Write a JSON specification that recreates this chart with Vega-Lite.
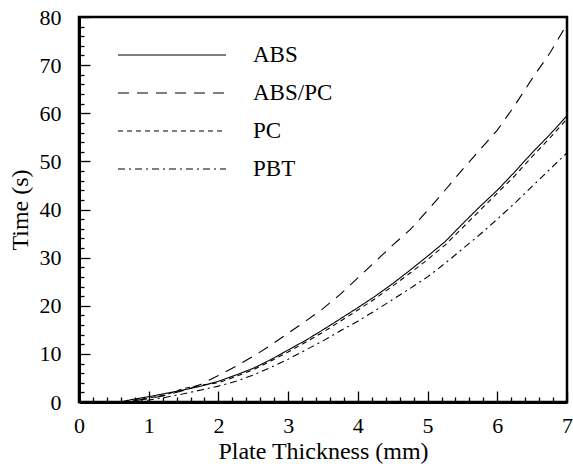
{
  "$schema": "https://vega.github.io/schema/vega-lite/v6.json",
  "width": 488,
  "height": 385,
  "autosize": {"type": "none"},
  "padding": {"left": 79, "top": 17, "right": 6, "bottom": 64},
  "background": "white",
  "config": {
    "font": "Liberation Serif",
    "view": {"stroke": "black", "strokeWidth": 2.5},
    "axis": {
      "grid": false,
      "domainColor": "black",
      "domainWidth": 3,
      "tickColor": "black",
      "tickWidth": 1.3,
      "labelColor": "black",
      "titleColor": "black",
      "labelFont": "Liberation Serif",
      "titleFont": "Liberation Serif",
      "labelFontSize": 22,
      "titleFontSize": 24,
      "titleFontWeight": "normal"
    }
  },
  "data": {
    "values": [
      {"x": 0, "y": 0, "s": "ABS"}, {"x": 0.5, "y": 0, "s": "ABS"}, {"x": 0.6, "y": 0, "s": "ABS"}, {"x": 0.75, "y": 0.5, "s": "ABS"},
      {"x": 1, "y": 1.1, "s": "ABS"}, {"x": 1.25, "y": 1.8, "s": "ABS"}, {"x": 1.5, "y": 2.5, "s": "ABS"}, {"x": 1.75, "y": 3.3, "s": "ABS"},
      {"x": 2, "y": 4.3, "s": "ABS"}, {"x": 2.25, "y": 5.6, "s": "ABS"}, {"x": 2.5, "y": 7.0, "s": "ABS"}, {"x": 2.75, "y": 8.8, "s": "ABS"},
      {"x": 3, "y": 10.8, "s": "ABS"}, {"x": 3.25, "y": 12.8, "s": "ABS"}, {"x": 3.5, "y": 15.0, "s": "ABS"}, {"x": 3.75, "y": 17.3, "s": "ABS"},
      {"x": 4, "y": 19.6, "s": "ABS"}, {"x": 4.25, "y": 22.0, "s": "ABS"}, {"x": 4.5, "y": 24.6, "s": "ABS"}, {"x": 4.75, "y": 27.4, "s": "ABS"},
      {"x": 5, "y": 30.3, "s": "ABS"}, {"x": 5.25, "y": 33.3, "s": "ABS"}, {"x": 5.5, "y": 37.0, "s": "ABS"}, {"x": 5.75, "y": 40.6, "s": "ABS"},
      {"x": 6, "y": 44.0, "s": "ABS"}, {"x": 6.25, "y": 47.8, "s": "ABS"}, {"x": 6.5, "y": 51.8, "s": "ABS"}, {"x": 6.75, "y": 55.5, "s": "ABS"},
      {"x": 7, "y": 59.5, "s": "ABS"},

      {"x": 0, "y": 0, "s": "ABS/PC"}, {"x": 0.5, "y": 0, "s": "ABS/PC"}, {"x": 0.65, "y": 0, "s": "ABS/PC"}, {"x": 0.75, "y": 0.2, "s": "ABS/PC"},
      {"x": 1, "y": 0.7, "s": "ABS/PC"}, {"x": 1.25, "y": 1.4, "s": "ABS/PC"}, {"x": 1.5, "y": 2.4, "s": "ABS/PC"}, {"x": 1.75, "y": 3.7, "s": "ABS/PC"},
      {"x": 2, "y": 5.5, "s": "ABS/PC"}, {"x": 2.25, "y": 7.4, "s": "ABS/PC"}, {"x": 2.5, "y": 9.5, "s": "ABS/PC"}, {"x": 2.75, "y": 11.8, "s": "ABS/PC"},
      {"x": 3, "y": 14.3, "s": "ABS/PC"}, {"x": 3.25, "y": 16.8, "s": "ABS/PC"}, {"x": 3.5, "y": 19.4, "s": "ABS/PC"}, {"x": 3.75, "y": 22.4, "s": "ABS/PC"},
      {"x": 4, "y": 25.8, "s": "ABS/PC"}, {"x": 4.25, "y": 29.2, "s": "ABS/PC"}, {"x": 4.5, "y": 32.6, "s": "ABS/PC"}, {"x": 4.75, "y": 35.8, "s": "ABS/PC"},
      {"x": 5, "y": 39.8, "s": "ABS/PC"}, {"x": 5.25, "y": 44.0, "s": "ABS/PC"}, {"x": 5.5, "y": 48.3, "s": "ABS/PC"}, {"x": 5.75, "y": 52.4, "s": "ABS/PC"},
      {"x": 6, "y": 56.5, "s": "ABS/PC"}, {"x": 6.25, "y": 61.6, "s": "ABS/PC"}, {"x": 6.5, "y": 67.2, "s": "ABS/PC"}, {"x": 6.75, "y": 72.4, "s": "ABS/PC"},
      {"x": 7, "y": 78.5, "s": "ABS/PC"},

      {"x": 0, "y": 0, "s": "PC"}, {"x": 0.5, "y": 0, "s": "PC"}, {"x": 0.65, "y": 0, "s": "PC"}, {"x": 0.75, "y": 0.3, "s": "PC"},
      {"x": 1, "y": 0.8, "s": "PC"}, {"x": 1.25, "y": 1.5, "s": "PC"}, {"x": 1.5, "y": 2.8, "s": "PC"}, {"x": 1.75, "y": 3.5, "s": "PC"},
      {"x": 2, "y": 4.0, "s": "PC"}, {"x": 2.25, "y": 5.3, "s": "PC"}, {"x": 2.5, "y": 6.7, "s": "PC"}, {"x": 2.75, "y": 8.5, "s": "PC"},
      {"x": 3, "y": 10.4, "s": "PC"}, {"x": 3.25, "y": 12.4, "s": "PC"}, {"x": 3.5, "y": 14.5, "s": "PC"}, {"x": 3.75, "y": 16.8, "s": "PC"},
      {"x": 4, "y": 19.1, "s": "PC"}, {"x": 4.25, "y": 21.5, "s": "PC"}, {"x": 4.5, "y": 24.1, "s": "PC"}, {"x": 4.75, "y": 26.8, "s": "PC"},
      {"x": 5, "y": 29.6, "s": "PC"}, {"x": 5.25, "y": 32.6, "s": "PC"}, {"x": 5.5, "y": 36.2, "s": "PC"}, {"x": 5.75, "y": 39.8, "s": "PC"},
      {"x": 6, "y": 43.4, "s": "PC"}, {"x": 6.25, "y": 47.0, "s": "PC"}, {"x": 6.5, "y": 51.0, "s": "PC"}, {"x": 6.75, "y": 54.8, "s": "PC"},
      {"x": 7, "y": 58.8, "s": "PC"},

      {"x": 0, "y": 0, "s": "PBT"}, {"x": 0.5, "y": 0, "s": "PBT"}, {"x": 0.75, "y": 0, "s": "PBT"},
      {"x": 1, "y": 0.4, "s": "PBT"}, {"x": 1.25, "y": 1.0, "s": "PBT"}, {"x": 1.5, "y": 1.7, "s": "PBT"}, {"x": 1.75, "y": 2.5, "s": "PBT"},
      {"x": 2, "y": 3.3, "s": "PBT"}, {"x": 2.25, "y": 4.3, "s": "PBT"}, {"x": 2.5, "y": 5.6, "s": "PBT"}, {"x": 2.75, "y": 7.2, "s": "PBT"},
      {"x": 3, "y": 8.9, "s": "PBT"}, {"x": 3.25, "y": 10.8, "s": "PBT"}, {"x": 3.5, "y": 12.7, "s": "PBT"}, {"x": 3.75, "y": 14.8, "s": "PBT"},
      {"x": 4, "y": 16.8, "s": "PBT"}, {"x": 4.25, "y": 19.0, "s": "PBT"}, {"x": 4.5, "y": 21.3, "s": "PBT"}, {"x": 4.75, "y": 23.6, "s": "PBT"},
      {"x": 5, "y": 26.0, "s": "PBT"}, {"x": 5.25, "y": 28.8, "s": "PBT"}, {"x": 5.5, "y": 31.8, "s": "PBT"}, {"x": 5.75, "y": 34.8, "s": "PBT"},
      {"x": 6, "y": 38.0, "s": "PBT"}, {"x": 6.25, "y": 41.3, "s": "PBT"}, {"x": 6.5, "y": 44.8, "s": "PBT"}, {"x": 6.75, "y": 48.3, "s": "PBT"},
      {"x": 7, "y": 51.8, "s": "PBT"}
    ]
  },
  "layer": [
    {
      "mark": {"type": "line", "color": "black", "strokeWidth": 1.1, "clip": true},
      "encoding": {
        "x": {
          "field": "x", "type": "quantitative",
          "scale": {"domain": [0, 7], "nice": false, "zero": false},
          "axis": {"values": [0, 1, 2, 3, 4, 5, 6, 7], "tickSize": -11, "labelPadding": 24, "title": "Plate Thickness (mm)", "titlePadding": 3, "labelFlush": false}
        },
        "y": {
          "field": "y", "type": "quantitative",
          "scale": {"domain": [0, 80], "nice": false},
          "axis": {"values": [0, 10, 20, 30, 40, 50, 60, 70, 80], "tickSize": -11, "labelPadding": 29, "title": "Time (s)", "titlePadding": 7, "labelFlush": false}
        },
        "strokeDash": {
          "field": "s", "type": "nominal",
          "scale": {"domain": ["ABS", "ABS/PC", "PC", "PBT"], "range": [[1, 0], [11, 8], [5, 4], [7, 4, 2, 4]]},
          "legend": {
            "orient": "none", "legendX": 78.5, "legendY": 23.5, "title": null, "padding": 0,
            "symbolType": "M-4,0H4", "symbolSize": 729, "symbolStrokeWidth": 1.1, "symbolStrokeColor": "black",
            "labelFont": "Liberation Serif", "labelFontSize": 23, "labelColor": "black", "labelOffset": 66.5, "rowPadding": 11
          }
        }
      }
    },
    {
      "mark": {"type": "point", "opacity": 0},
      "encoding": {
        "x": {
          "field": "x", "type": "quantitative",
          "axis": {"orient": "bottom", "values": [0.2, 0.4, 0.6, 0.8, 1.2, 1.4, 1.6, 1.8, 2.2, 2.4, 2.6, 2.8, 3.2, 3.4, 3.6, 3.8, 4.2, 4.4, 4.6, 4.8, 5.2, 5.4, 5.6, 5.8, 6.2, 6.4, 6.6, 6.8], "tickSize": -5, "labels": false, "domain": false, "title": null}
        },
        "y": {
          "field": "y", "type": "quantitative",
          "axis": {"orient": "left", "values": [2, 4, 6, 8, 12, 14, 16, 18, 22, 24, 26, 28, 32, 34, 36, 38, 42, 44, 46, 48, 52, 54, 56, 58, 62, 64, 66, 68, 72, 74, 76, 78], "tickSize": -5, "labels": false, "domain": false, "title": null}
        }
      }
    }
  ],
  "resolve": {"axis": {"x": "independent", "y": "independent"}}
}
